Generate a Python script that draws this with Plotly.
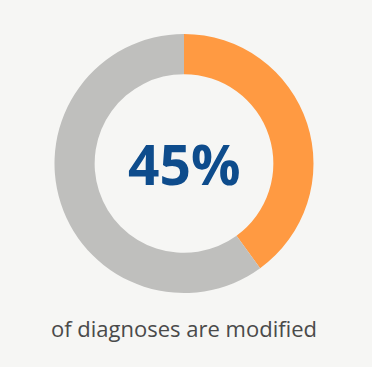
import plotly.graph_objects as go

labels = ["Modified", "Not modified"]
values = [40, 60]
colors = ["#FF9A42", "#BFBFBD"]
center_text = "45%"
caption = "of diagnoses are modified"

W, H = 372, 367
cx, cy, r = 184, 163.5, 129.5

fig = go.Figure(go.Pie(
    labels=labels, values=values, hole=0.69, sort=False,
    direction="clockwise", rotation=0,
    marker=dict(colors=colors, line=dict(width=0)),
    textinfo="none", hoverinfo="skip", showlegend=False,
    domain=dict(x=[(cx - r) / W, (cx + r) / W],
                y=[(H - cy - r) / H, (H - cy + r) / H]),
))

fig.add_annotation(x=cx / W, y=1 - 164 / H, xref="paper", yref="paper",
                   text="<b>" + center_text + "</b>", showarrow=False,
                   font=dict(family="Open Sans", size=55, color="#0E4C8C"),
                   xanchor="center", yanchor="middle")
fig.add_annotation(x=cx / W, y=1 - 328 / H, xref="paper", yref="paper",
                   text=caption, showarrow=False,
                   font=dict(family="Open Sans", size=22, color="#4A4A4A"),
                   xanchor="center", yanchor="middle")

fig.update_layout(width=W, height=H, margin=dict(l=0, r=0, t=0, b=0),
                  paper_bgcolor="#F6F6F4", plot_bgcolor="#F6F6F4")
fig.write_html("out.html", config={"displayModeBar": False},
               post_script="document.body.style.margin='0px';document.body.style.overflow='hidden';document.body.style.background='#F6F6F4';")
